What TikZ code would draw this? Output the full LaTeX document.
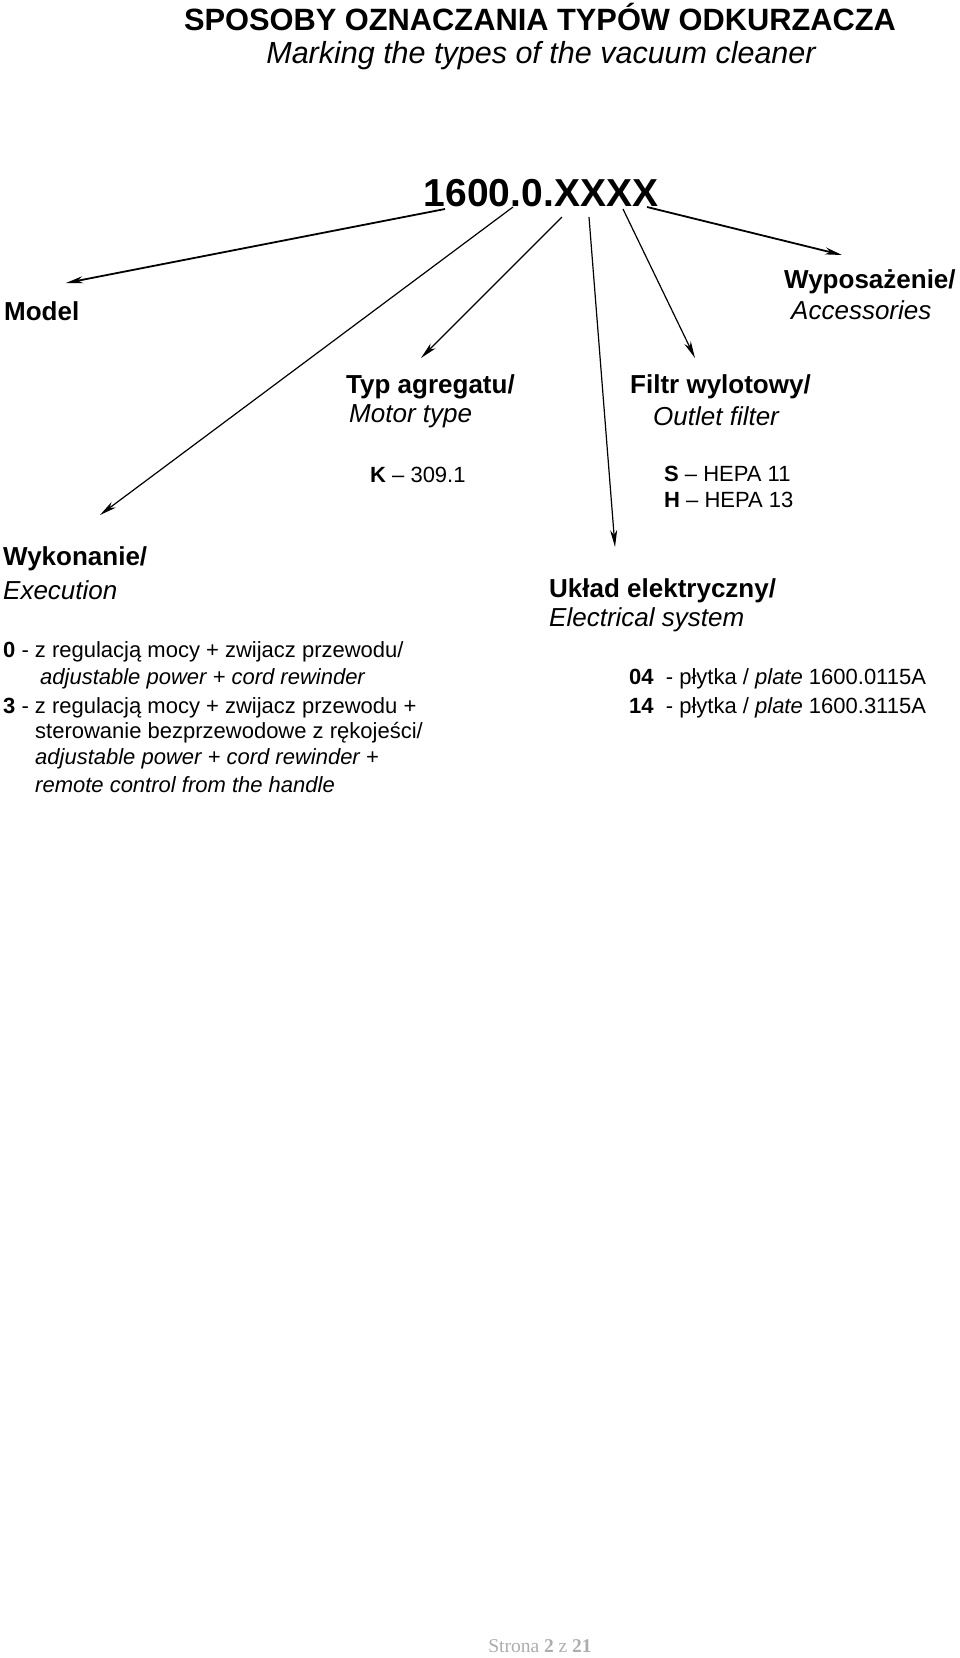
\documentclass[tikz,border=0pt]{standalone}
\usepackage{fontspec}
\setmainfont{Liberation Sans}
\newfontfamily\footfont{Liberation Serif}
\usepackage{xcolor}
\usetikzlibrary{arrows.meta, positioning}
\definecolor{footgray}{gray}{0.68}

\begin{document}
\begin{tikzpicture}[
    x=1pt,
    y=-1pt,
    heading/.style={
        anchor=west,
        inner sep=0pt,
        font=\fontsize{26}{30}\selectfont\bfseries
    },
    subheading/.style={
        anchor=west,
        inner sep=0pt,
        font=\fontsize{26}{30}\selectfont\itshape
    },
    item/.style={
        anchor=west,
        inner sep=0pt,
        font=\fontsize{22}{26}\selectfont
    },
    pointer/.style={
        -{Stealth[length=17pt,width=7pt,inset=5pt]},
        line width=1.2pt
    },
    bold pointer/.style={
        pointer,
        line width=1.8pt
    }
]
    \useasboundingbox (0,0) rectangle (960,1658);

    \node[inner sep=0pt, font=\fontsize{30.8}{34}\selectfont\bfseries] (title) at (540,17) {SPOSOBY OZNACZANIA TYPÓW ODKURZACZA};
    \node[inner sep=0pt, font=\fontsize{30.5}{34}\selectfont\itshape] (subtitle) at (541,56) {Marking the types of the vacuum cleaner};
    \node[inner sep=0pt, font=\fontsize{39}{44}\selectfont\bfseries] (code) at (541,193) {1600.0.XXXX};

    \node[heading] (model) at (4,311) {Model};
    \node[heading] (accessories) at (784,282) {Wyposażenie/};
    \node[subheading] (accessoriesen) at (791,310) {Accessories};

    \node[heading] (motor) at (346,387) {Typ agregatu/};
    \node[subheading] (motoren) at (349,416) {Motor type};
    \node[item] (motorK) at (370,475) {\textbf{K} – 309.1};

    \node[heading] (filter) at (630,387) {Filtr wylotowy/};
    \node[subheading] (filteren) at (653,416) {Outlet filter};
    \node[item] (filterS) at (664,474) {\textbf{S} – HEPA 11};
    \node[item] (filterH) at (664,500) {\textbf{H} – HEPA 13};

    \node[heading] (execution) at (3,559) {Wykonanie/};
    \node[subheading] (executionen) at (3,590) {Execution};
    \node[item] (exec0a) at (3,652) {\textbf{0} - z regulacją mocy + zwijacz przewodu/};
    \node[item] (exec0b) at (40,679) {\itshape adjustable power + cord rewinder};
    \node[item] (exec3a) at (3,708) {\textbf{3} - z regulacją mocy + zwijacz przewodu +};
    \node[item] (exec3b) at (35,733) {sterowanie bezprzewodowe z rękojeści/};
    \node[item] (exec3c) at (35,759) {\itshape adjustable power + cord rewinder +};
    \node[item] (exec3d) at (35,785) {\itshape remote control from the handle};

    \node[heading] (electric) at (549,591) {Układ elektryczny/};
    \node[subheading] (electricen) at (549,620) {Electrical system};
    \node[item] (plate04) at (629,679) {\textbf{04}\ \ - płytka / \textit{plate} 1600.0115A};
    \node[item] (plate14) at (629,708) {\textbf{14}\ \ - płytka / \textit{plate} 1600.3115A};

    \node[inner sep=0pt, text=footgray, font=\footfont\fontsize{19.5}{22}\selectfont] (page) at (540,1646) {Strona \textbf{2} z \textbf{21}};

    \coordinate (from1) at (445,209);
    \coordinate (from2) at (513,207);
    \coordinate (from3) at (562,217);
    \coordinate (from4) at (589,217);
    \coordinate (from5) at (623,209);
    \coordinate (from6) at (647,207);
    \coordinate (to1) at (66,283);
    \coordinate (to2) at (100,515);
    \coordinate (to3) at (421,358);
    \coordinate (to4) at (615,547);
    \coordinate (to5) at (695,358);
    \coordinate (to6) at (842,255);

    \draw[bold pointer] (from1) -- (to1);
    \draw[pointer] (from2) -- (to2);
    \draw[pointer] (from3) -- (to3);
    \draw[pointer] (from4) -- (to4);
    \draw[pointer] (from5) -- (to5);
    \draw[bold pointer] (from6) -- (to6);
\end{tikzpicture}
\end{document}
